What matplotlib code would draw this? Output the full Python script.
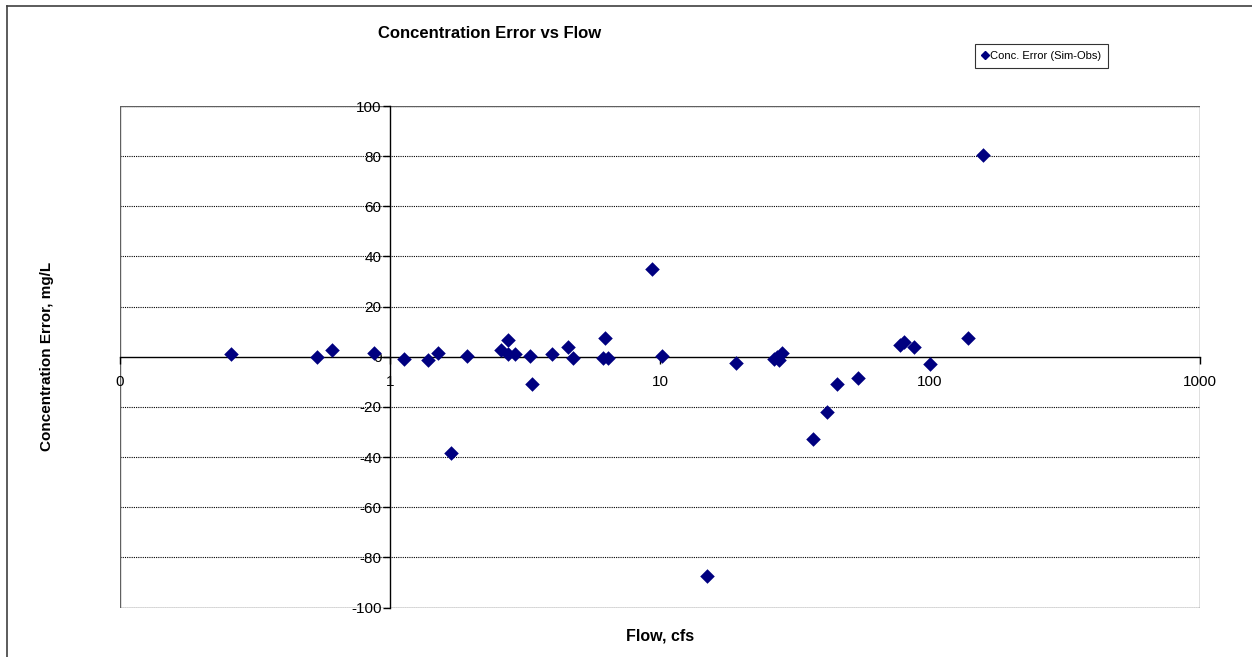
import matplotlib
matplotlib.use("Agg")
import matplotlib.pyplot as plt
from matplotlib.lines import Line2D
from matplotlib.patches import Rectangle

plt.rcParams['font.family'] = ['Liberation Sans', 'DejaVu Sans']

# flow (cfs) and concentration error (sim - obs, mg/L)
flow = [0.258, 0.537, 0.611, 0.872, 1.13, 1.387, 1.50, 1.68, 1.93,
        2.58, 2.74, 2.74, 2.91, 3.29, 3.36, 3.97, 4.58, 4.75,
        6.13, 6.24, 6.44, 9.37, 10.15, 14.9, 19.05,
        26.4, 27.1, 27.7, 28.2, 36.8, 41.5, 45.1, 54.3,
        77.2, 79.9, 87.0, 100.3, 138.7, 157.0]
error = [0.9, 0.0, 2.5, 1.4, -0.9, -1.1, 1.4, -38.4, 0.1,
         2.7, 6.6, 1.0, 1.0, 0.3, -11.0, 1.0, 3.9, -0.5,
         -0.3, 7.5, -0.5, 34.9, 0.3, -87.3, -2.6,
         -0.9, 0.0, -1.4, 1.3, -33.0, -22.0, -11.0, -8.5,
         4.5, 5.9, 3.7, -2.9, 7.5, 80.4]

x_ticks = [0.1, 1, 10, 100, 1000]
x_tick_labels = ['0', '1', '10', '100', '1000']
y_ticks = list(range(-100, 101, 20))

navy = '#000080'

fig = plt.figure(figsize=(12.52, 6.57), dpi=100)
ax = fig.add_axes([120 / 1252, 49.5 / 657, 1080 / 1252, 501.5 / 657])

ax.scatter(flow, error, marker='D', s=55, color=navy, zorder=5, linewidths=0)

ax.set_xscale('log')
ax.set_xlim(0.1, 1000)
ax.set_ylim(-100, 100)

# excel-style axes crossing at x=1 and y=0
for side in ['top', 'right']:
    ax.spines[side].set_visible(False)
ax.spines['left'].set_position(('data', 1))
ax.spines['bottom'].set_position(('data', 0))
ax.spines['left'].set_linewidth(1.0)
ax.spines['bottom'].set_linewidth(1.0)

ax.add_patch(Rectangle((0, 0), 1, 1, transform=ax.transAxes, fill=False,
                       edgecolor='#606060', linewidth=1.0, zorder=1))

ax.set_yticks(y_ticks)
ax.set_yticklabels([str(v) for v in y_ticks])
ax.set_xticks(x_ticks)
ax.set_xticklabels(x_tick_labels)
ax.xaxis.set_minor_locator(matplotlib.ticker.NullLocator())
ax.tick_params(axis='y', direction='out', length=5, width=1, pad=1, labelsize=11)
ax.tick_params(axis='x', direction='out', length=5, width=1, pad=8, labelsize=11)

for v in y_ticks:
    if v != 0:
        ax.axhline(v, color='black', linestyle=(0, (1, 1)), linewidth=0.8, zorder=0)

ax.set_xlabel('')
ax.set_ylabel('')
fig.text(660 / 1252, 1 - 636 / 657, 'Flow, cfs', ha='center', va='center',
         fontsize=11.5, fontweight='bold')
fig.text(47 / 1252, 1 - 356 / 657, 'Concentration Error, mg/L', ha='center',
         va='center', rotation=90, fontsize=11, fontweight='bold')
fig.text(490 / 1252, 1 - 33 / 657, 'Concentration Error vs Flow', ha='center',
         va='center', fontsize=12, fontweight='bold')

handle = Line2D([], [], marker='D', color=navy, linestyle='none', markersize=4.5)
leg = fig.legend([handle], ['Conc. Error (Sim-Obs)'], loc='center',
                 bbox_to_anchor=(1041.5 / 1252, 1 - 56 / 657), fontsize=8,
                 frameon=True, fancybox=False, edgecolor='black',
                 handlelength=0.6, handletextpad=0.1, borderpad=0.6,
                 borderaxespad=0)
leg.get_frame().set_linewidth(0.8)

# outer chart border (left and top visible)
fig.add_artist(Line2D([7 / 1252, 7 / 1252], [0, 1 - 6 / 657], color='#404040',
                      linewidth=1.2, transform=fig.transFigure))
fig.add_artist(Line2D([7 / 1252, 1], [1 - 6 / 657, 1 - 6 / 657], color='#404040',
                      linewidth=1.2, transform=fig.transFigure))

fig.savefig('out.png', dpi=100)
